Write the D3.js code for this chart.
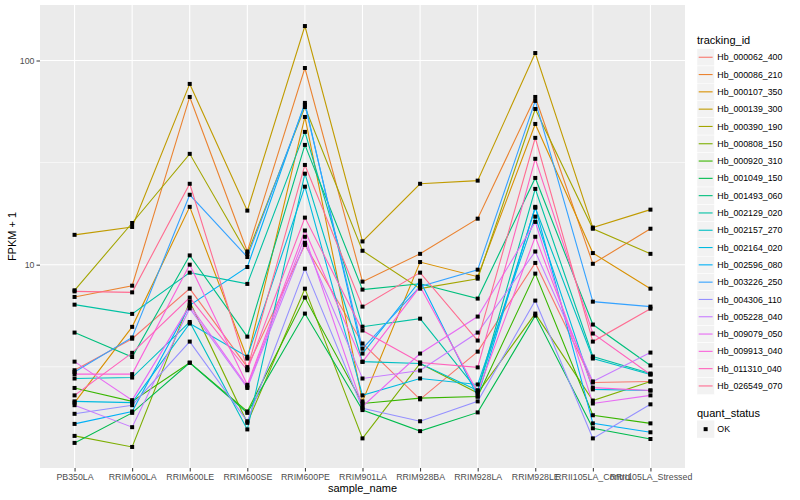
<!DOCTYPE html>
<html>
<head>
<meta charset="utf-8">
<script src="https://cdn.jsdelivr.net/npm/d3@7"></script>
<style>
  body { margin: 0; background: #fff; }
  text { font-family: "Liberation Sans", Arial, sans-serif; }
</style>
</head>
<body>
<div id="chart"></div>
<script>
// sample names along the x axis
let samples = ["PB350LA", "RRIM600LA", "RRIM600LE", "RRIM600SE", "RRIM600PE", "RRIM901LA",
               "RRIM928BA", "RRIM928LA", "RRIM928LE", "RRII105LA_Control", "RRII105LA_Stressed"];

let trackingIds = ["Hb_000062_400", "Hb_000086_210", "Hb_000107_350", "Hb_000139_300", "Hb_000390_190",
                   "Hb_000808_150", "Hb_000920_310", "Hb_001049_150", "Hb_001493_060", "Hb_002129_020",
                   "Hb_002157_270", "Hb_002164_020", "Hb_002596_080", "Hb_003226_250", "Hb_004306_110",
                   "Hb_005228_040", "Hb_009079_050", "Hb_009913_040", "Hb_011310_040", "Hb_026549_070"];

// FPKM + 1, one array per gene (same order as samples)
let hb000062 = [3.04, 4.34, 7.63, 3.15, 12.5, 4.11, 2.19, 3.75, 10.2, 2.65, 2.68];
let hb000086 = [6.95, 7.89, 66.3, 11.6, 91.9, 8.26, 11.3, 16.8, 66.3, 10.1, 15.0];
let hb000107 = [2.11, 4.96, 19.2, 3.47, 52.9, 2.14, 10.3, 8.73, 48.9, 11.4, 7.63];
let hb000139 = [14.0, 15.3, 76.8, 18.4, 147.5, 13.0, 24.9, 25.8, 108.8, 15.2, 18.6];
let hb000390 = [7.49, 16.0, 34.9, 11.3, 59.2, 11.7, 7.63, 8.54, 57.9, 15.0, 11.3];
let hb000808 = [1.45, 1.28, 6.59, 1.68, 7.63, 1.41, 3.28, 2.35, 5.76, 2.16, 2.68];
let hb000920 = [2.49, 2.14, 3.31, 1.91, 6.90, 2.09, 2.22, 2.26, 9.04, 1.83, 1.67];
let hb001049 = [1.34, 1.88, 3.31, 1.88, 5.76, 1.94, 1.53, 1.89, 5.63, 1.58, 1.40];
let hb001493 = [4.65, 3.53, 11.1, 4.44, 38.6, 7.55, 8.07, 6.82, 26.6, 5.09, 3.21];
let hb002129 = [6.37, 5.74, 9.14, 8.05, 44.7, 4.97, 5.44, 2.42, 23.5, 3.55, 2.93];
let hb002157 = [2.77, 2.80, 5.24, 1.56, 27.9, 3.35, 3.28, 2.42, 19.0, 3.47, 2.90];
let hb002164 = [2.14, 2.11, 5.15, 3.54, 24.1, 2.29, 2.77, 2.59, 17.2, 2.45, 2.42];
let hb002596 = [1.66, 1.91, 6.32, 9.74, 62.0, 3.67, 8.35, 2.26, 19.2, 1.67, 1.51];
let hb003226 = [2.98, 4.40, 22.0, 10.9, 60.6, 3.88, 7.81, 9.45, 63.4, 6.59, 6.23];
let hb004306 = [1.86, 2.05, 4.20, 1.71, 9.56, 1.98, 1.71, 2.14, 6.67, 1.41, 2.07];
let hb005228 = [2.05, 1.60, 6.11, 2.49, 12.8, 2.77, 3.03, 4.65, 11.6, 2.68, 3.71];
let hb009079 = [3.35, 2.17, 6.32, 2.53, 13.7, 2.02, 3.67, 5.57, 16.2, 2.09, 2.29];
let hb009913 = [2.91, 2.91, 10.0, 2.58, 14.7, 3.34, 7.81, 2.37, 13.7, 2.50, 2.42];
let hb011310 = [2.29, 3.70, 6.90, 3.04, 17.0, 4.76, 3.32, 3.14, 33.0, 4.60, 2.90];
let hb026549 = [7.40, 7.32, 24.9, 3.09, 30.8, 6.23, 9.14, 4.25, 41.8, 4.20, 6.09];

let allValues = [hb000062, hb000086, hb000107, hb000139, hb000390, hb000808, hb000920, hb001049,
                 hb001493, hb002129, hb002157, hb002164, hb002596, hb003226, hb004306, hb005228,
                 hb009079, hb009913, hb011310, hb026549];

let yTicks = [10, 100];
let quantStatus = ["OK"];

// ggplot default hue palette for 20 levels
let colours = ["#F8766D", "#EA8331", "#D89000", "#C09B00", "#A3A500", "#7CAE00", "#39B600", "#00BB4E",
               "#00BF7D", "#00C1A3", "#00BFC4", "#00BAE0", "#00B0F6", "#35A2FF", "#9590FF", "#C77CFF",
               "#E76BF3", "#FA62DB", "#FF62BC", "#FF6C91"];

let width = 800, height = 500;
let panel = {left: 40, right: 685, top: 5, bottom: 468};

let series = trackingIds.map((id, i) => ({
    id: id,
    colour: colours[i],
    values: allValues[i].map((v, j) => ({sample: samples[j], value: v}))
}));

let svg = d3.select("#chart").append("svg")
    .attr("width", width)
    .attr("height", height);

// log scale with ggplot's 5% expansion
let allFlat = allValues.flat();
let lo = Math.log10(d3.min(allFlat)), hi = Math.log10(d3.max(allFlat));
let pad = (hi - lo) * 0.05;
let yScale = d3.scaleLog()
    .domain([Math.pow(10, lo - pad), Math.pow(10, hi + pad)])
    .range([panel.bottom, panel.top]);

let xScale = d3.scalePoint()
    .domain(samples)
    .range([panel.left, panel.right])
    .padding(0.6);

// panel background
svg.append("rect")
    .attr("x", panel.left).attr("y", panel.top)
    .attr("width", panel.right - panel.left)
    .attr("height", panel.bottom - panel.top)
    .attr("fill", "#EBEBEB");

// minor grid (half decades)
let minor = [Math.sqrt(10), Math.sqrt(1000)].filter(v => v > yScale.domain()[0] && v < yScale.domain()[1]);
svg.append("g").selectAll("line").data(minor).join("line")
    .attr("x1", panel.left).attr("x2", panel.right)
    .attr("y1", d => yScale(d)).attr("y2", d => yScale(d))
    .attr("stroke", "#fff").attr("stroke-width", 0.6);

svg.append("g").selectAll("line").data(yTicks).join("line")
    .attr("x1", panel.left).attr("x2", panel.right)
    .attr("y1", d => yScale(d)).attr("y2", d => yScale(d))
    .attr("stroke", "#fff").attr("stroke-width", 1.1);

svg.append("g").selectAll("line").data(samples).join("line")
    .attr("x1", d => xScale(d)).attr("x2", d => xScale(d))
    .attr("y1", panel.top).attr("y2", panel.bottom)
    .attr("stroke", "#fff").attr("stroke-width", 1.1);

// axes
let xAxis = d3.axisBottom(xScale).tickSize(3.5).tickPadding(2);
let yAxis = d3.axisLeft(yScale).tickValues(yTicks).tickFormat(d3.format("d")).tickSize(3.5).tickPadding(2);

let gx = svg.append("g")
    .attr("transform", `translate(0, ${panel.bottom})`)
    .call(xAxis);
let gy = svg.append("g")
    .attr("transform", `translate(${panel.left}, 0)`)
    .call(yAxis);

[gx, gy].forEach(g => {
    g.select(".domain").remove();
    g.selectAll(".tick line").attr("stroke", "#333333");
    g.selectAll(".tick text")
        .attr("fill", "#4D4D4D")
        .style("font-size", "8.8px")
        .style("font-family", "'Liberation Sans', Arial, sans-serif");
});

svg.append("text")
    .attr("x", (panel.left + panel.right) / 2)
    .attr("y", 492)
    .attr("text-anchor", "middle")
    .style("font-size", "11px")
    .text("sample_name");

svg.append("text")
    .attr("transform", `translate(16, ${(panel.top + panel.bottom) / 2}) rotate(-90)`)
    .attr("text-anchor", "middle")
    .style("font-size", "11px")
    .text("FPKM + 1");

// lines
let lineGenerator = d3.line()
    .x(d => xScale(d.sample))
    .y(d => yScale(d.value));

svg.append("g").selectAll("path").data(series).join("path")
    .attr("d", d => lineGenerator(d.values))
    .attr("fill", "none")
    .attr("stroke", d => d.colour)
    .attr("stroke-width", 1.1);

// points
let pointSize = 4;
svg.append("g").selectAll("g").data(series).join("g")
    .selectAll("rect").data(d => d.values).join("rect")
    .attr("x", d => xScale(d.sample) - pointSize / 2)
    .attr("y", d => yScale(d.value) - pointSize / 2)
    .attr("width", pointSize)
    .attr("height", pointSize)
    .attr("fill", "#000");

// legend: tracking_id
let legX = 697, keySize = 17.3, legTop = 48.6;
let legend = svg.append("g");
legend.append("text")
    .attr("x", legX).attr("y", 44)
    .style("font-size", "11px")
    .text("tracking_id");

let keys = legend.selectAll("g.key").data(series).join("g")
    .attr("class", "key")
    .attr("transform", (d, i) => `translate(${legX}, ${legTop + i * keySize})`);
keys.append("rect")
    .attr("width", keySize).attr("height", keySize)
    .attr("fill", "#F2F2F2")
    .attr("stroke", "#fff").attr("stroke-width", 0.5);
keys.append("line")
    .attr("x1", 1.7).attr("x2", keySize - 1.7)
    .attr("y1", keySize / 2).attr("y2", keySize / 2)
    .attr("stroke", d => d.colour)
    .attr("stroke-width", 1.1);
keys.append("text")
    .attr("x", keySize + 3).attr("y", keySize / 2)
    .attr("dy", "0.35em")
    .style("font-size", "8.8px")
    .text(d => d.id);

// legend: quant_status
let qTop = 420.5;
legend.append("text")
    .attr("x", legX).attr("y", 417)
    .style("font-size", "11px")
    .text("quant_status");
let qKeys = legend.selectAll("g.qkey").data(quantStatus).join("g")
    .attr("class", "qkey")
    .attr("transform", (d, i) => `translate(${legX}, ${qTop + i * keySize})`);
qKeys.append("rect")
    .attr("width", keySize).attr("height", keySize)
    .attr("fill", "#F2F2F2");
qKeys.append("rect")
    .attr("x", keySize / 2 - pointSize / 2).attr("y", keySize / 2 - pointSize / 2)
    .attr("width", pointSize).attr("height", pointSize)
    .attr("fill", "#000");
qKeys.append("text")
    .attr("x", keySize + 3).attr("y", keySize / 2)
    .attr("dy", "0.35em")
    .style("font-size", "8.8px")
    .text(d => d);
</script>
</body>
</html>
